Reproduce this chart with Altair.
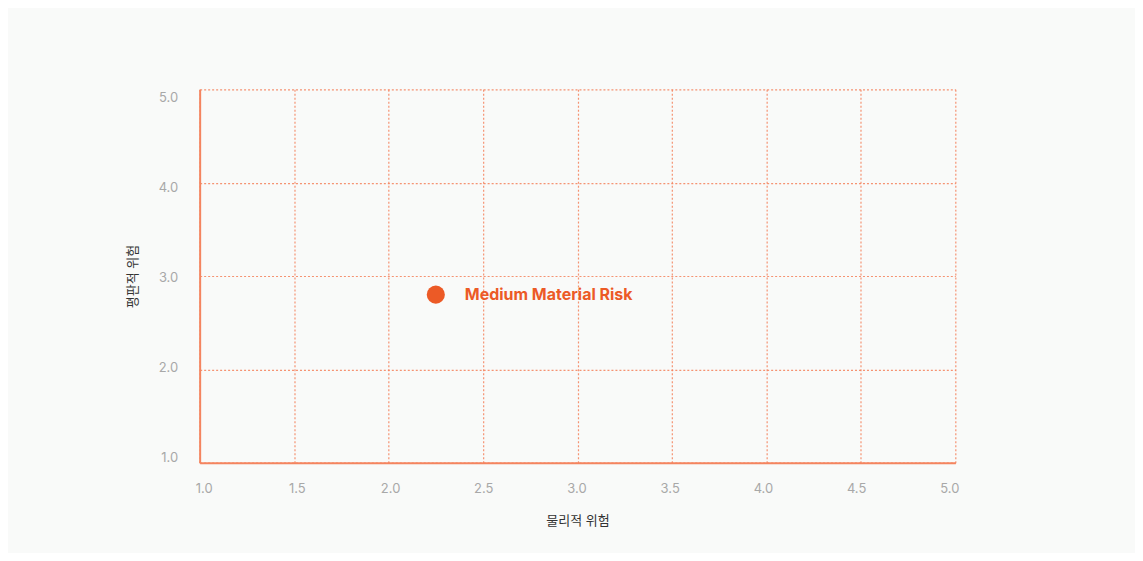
import altair as alt
import pandas as pd

labels = ["Medium Material Risk"]
physical = [2.25]
reputational = [2.8]

df = pd.DataFrame({"label": labels, "x": physical, "y": reputational})

FONT = "Inter, Noto Sans CJK KR, sans-serif"
ORANGE = "#ec5a26"
GRID = "#f4805a"

xs = alt.Scale(domain=[1, 5], nice=False, zero=False)
ys = alt.Scale(domain=[1, 5], nice=False, zero=False)

x_enc = alt.X("x:Q", scale=xs, title="물리적 위험",
              axis=alt.Axis(values=[1, 1.5, 2, 2.5, 3, 3.5, 4, 4.5, 5], format=".1f",
                            labelFlush=False,
                            labelOffset={"expr": "-1 - (datum.value - 3) * 2.5"}))
y_enc = alt.Y("y:Q", scale=ys, title="평판적 위험",
              axis=alt.Axis(values=[1, 2, 3, 4, 5], format=".1f", labelFlush=False,
                            labelOffset={"expr": "1.5 + (datum.value - 3) * 3.3"}))

pts = alt.Chart(df).mark_circle(size=330, color=ORANGE, opacity=1).encode(x=x_enc, y=y_enc)
txt = alt.Chart(df).mark_text(align="left", baseline="middle", dx=29, fontSize=16,
                              fontWeight="bold", color=ORANGE, font=FONT).encode(
    x=x_enc, y=y_enc, text="label:N")

chart = (pts + txt).properties(
    width=757, height=374,
    autosize=alt.AutoSizeParams(type="none"),
    padding={"left": 192, "top": 81, "right": 180, "bottom": 90},
    background="#f9faf9",
).configure_view(stroke=None).configure_axis(
    domainColor="#f4845f", domainWidth=2,
    gridColor=GRID, gridDash=[2, 2], gridWidth=1.2, gridOpacity=0.85,
    ticks=False, labelColor="#a8a8a8", labelFontSize=13, labelFont=FONT,
    titleFont=FONT, titleFontSize=13, titleFontWeight="normal", titleColor="#333333",
).configure_axisX(labelPadding=20, titlePadding=19).configure_axisY(
    labelPadding=22, titlePadding=19)

chart.save("out.html", embed_options={"renderer": "svg", "actions": False})
